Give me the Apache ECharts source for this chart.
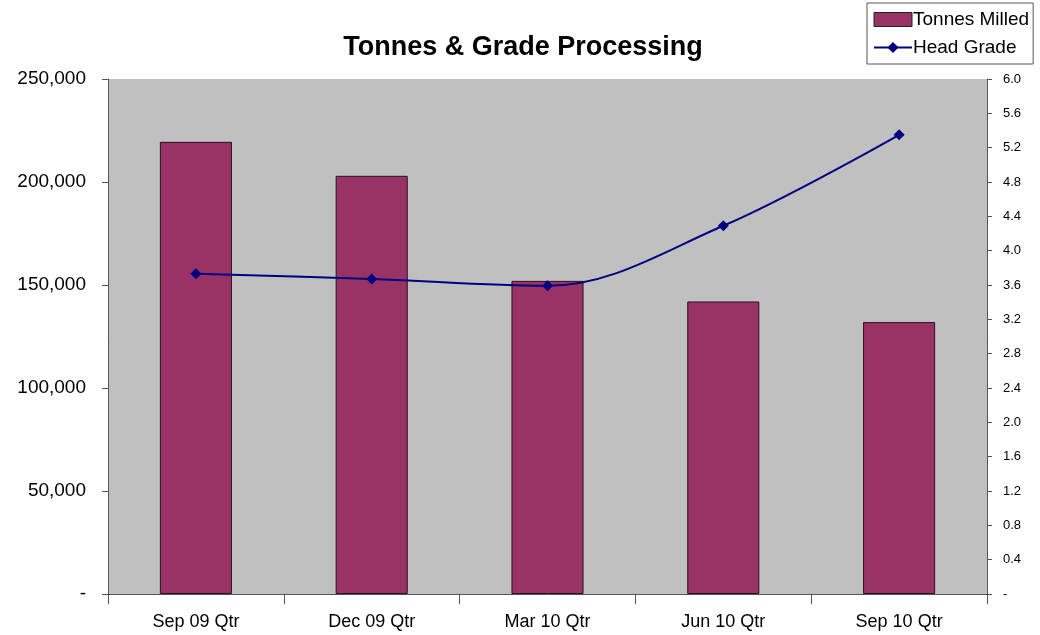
<!DOCTYPE html>
<html><head><meta charset="utf-8">
<script src="https://cdn.jsdelivr.net/npm/echarts@6/dist/echarts.min.js"></script>
<style>html,body{margin:0;padding:0;background:#fff}#c{width:1040px;height:635px}</style>
</head><body><div id="c"></div>
<script>
const categories = ['Sep 09 Qtr', 'Dec 09 Qtr', 'Mar 10 Qtr', 'Jun 10 Qtr', 'Sep 10 Qtr'];
const tonnesMilled = [219500, 203000, 152000, 142000, 132000];
const headGrade = [3.73, 3.67, 3.59, 4.29, 5.35];
const leftTicks = [0, 50000, 100000, 150000, 200000, 250000];
const rightTicks = [0, 0.4, 0.8, 1.2, 1.6, 2.0, 2.4, 2.8, 3.2, 3.6, 4.0, 4.4, 4.8, 5.2, 5.6, 6.0];

const font = 'Liberation Sans, Arial, sans-serif';
const chart = echarts.init(document.getElementById('c'));
chart.setOption({
  animation: false,
  backgroundColor: '#ffffff',
  title: {
    text: 'Tonnes & Grade Processing',
    left: 518, top: 29, textAlign: 'center',
    textStyle: {fontFamily: font, fontSize: 27, fontWeight: 'bold', color: '#000'}
  },
  legend: {
    orient: 'vertical', left: 867, top: 3,
    padding: [7, 4, 7, 6],
    itemGap: 9, itemWidth: 38, itemHeight: 14,
    borderColor: '#555', borderWidth: 1, backgroundColor: '#fff',
    textStyle: {fontFamily: font, fontSize: 19, color: '#000', padding: [0,0,0,-4]},
    data: [
      {name: 'Tonnes Milled', icon: 'rect', itemStyle: {color: '#993366', borderColor: '#222', borderWidth: 1}},
      {name: 'Head Grade'}
    ]
  },
  grid: {left: 108, right: 53, top: 79, bottom: 41, show: true, backgroundColor: '#c0c0c0', borderWidth: 0},
  xAxis: {
    type: 'category', data: categories,
    axisLine: {lineStyle: {color: '#555', width: 1}},
    axisTick: {show: true, alignWithLabel: false, length: 10, lineStyle: {color: '#555'}},
    axisLabel: {fontFamily: font, fontSize: 18, color: '#000', margin: 19}
  },
  yAxis: [
    {
      type: 'value', min: 0, max: 250000, interval: 50000, position: 'left',
      axisLine: {show: true, lineStyle: {color: '#555', width: 1}},
      axisTick: {show: true, length: 6, lineStyle: {color: '#555'}},
      splitLine: {show: false},
      axisLabel: {fontFamily: font, fontSize: 19, color: '#000', margin: 22,
        formatter: v => v === 0 ? '-' : v.toLocaleString('en-US')}
    },
    {
      type: 'value', min: 0, max: 6, interval: 0.4, position: 'right',
      axisLine: {show: true, lineStyle: {color: '#555', width: 1}},
      axisTick: {show: true, length: 5, lineStyle: {color: '#555'}},
      splitLine: {show: false},
      axisLabel: {fontFamily: font, fontSize: 13, color: '#000', margin: 16,
        formatter: v => v === 0 ? '-' : v.toFixed(1)}
    }
  ],
  series: [
    {
      name: 'Tonnes Milled', type: 'bar', data: tonnesMilled, yAxisIndex: 0,
      barWidth: '41%',
      itemStyle: {color: '#993366', borderColor: '#2a1020', borderWidth: 1}
    },
    {
      name: 'Head Grade', type: 'line', data: headGrade, yAxisIndex: 1,
      smooth: 0.35, symbol: 'diamond', symbolSize: 11,
      lineStyle: {color: '#000080', width: 2},
      itemStyle: {color: '#000080'}
    }
  ]
});
</script></body></html>
